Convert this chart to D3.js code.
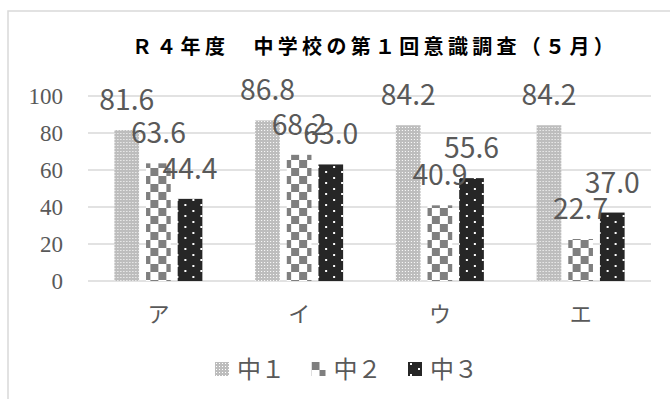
<!DOCTYPE html>
<html lang="ja">
<head>
<meta charset="UTF-8">
<title>R4年度 中学校の第1回意識調査（5月）</title>
<script src="https://d3js.org/d3.v7.min.js"></script>
<style>
  body { margin: 0; background: #fff; }
  svg { display: block; }
</style>
</head>
<body>
<div id="chart"></div>
<script>
const categories = ["ア", "イ", "ウ", "エ"];
const seriesNames = ["中１", "中２", "中３"];
const grade1 = [81.6, 86.8, 84.2, 84.2];
const grade2 = [63.6, 68.2, 40.9, 22.7];
const grade3 = [44.4, 63.0, 55.6, 37.0];
const yTicks = [0, 20, 40, 60, 80, 100];

const seriesValues = [grade1, grade2, grade3];

const W = 670, H = 399;
const plot = { left: 88, right: 651, top: 96, bottom: 281 };
const textGray = "#595959";

const svg = d3.select("#chart").append("svg")
    .attr("width", W)
    .attr("height", H);

// fill patterns, one per series
const defs = svg.append("defs");

const p1 = defs.append("pattern").attr("id", "pat1")
    .attr("patternUnits", "userSpaceOnUse").attr("width", 3).attr("height", 3);
p1.append("rect").attr("width", 3).attr("height", 3).attr("fill", "#bdbdbd");
p1.append("rect").attr("x", 1).attr("y", 1).attr("width", 1).attr("height", 1).attr("fill", "#fff");

const p2 = defs.append("pattern").attr("id", "pat2")
    .attr("patternUnits", "userSpaceOnUse").attr("width", 16).attr("height", 16);
p2.append("rect").attr("width", 16).attr("height", 16).attr("fill", "#fff");
p2.append("rect").attr("width", 8).attr("height", 8).attr("fill", "#7f7f7f");
p2.append("rect").attr("x", 8).attr("y", 8).attr("width", 8).attr("height", 8).attr("fill", "#7f7f7f");

const p3 = defs.append("pattern").attr("id", "pat3")
    .attr("patternUnits", "userSpaceOnUse").attr("width", 16).attr("height", 11);
p3.append("rect").attr("width", 16).attr("height", 11).attr("fill", "#262626");
p3.append("rect").attr("x", 2).attr("y", 1).attr("width", 2).attr("height", 2).attr("fill", "#fff");
p3.append("rect").attr("x", 10).attr("y", 6).attr("width", 2).attr("height", 2).attr("fill", "#fff");

const fills = ["url(#pat1)", "url(#pat2)", "url(#pat3)"];

// chart frame (only left and top edges are visible in the picture)
svg.append("rect")
    .attr("x", 8).attr("y", 11)
    .attr("width", 700).attr("height", 420)
    .attr("fill", "none")
    .attr("stroke", "#d9d9d9")
    .attr("stroke-width", 1.5);

svg.append("text")
    .attr("x", 375).attr("y", 54)
    .attr("text-anchor", "middle")
    .style("font-family", "'Noto Sans CJK JP', sans-serif")
    .style("font-weight", "bold")
    .style("font-size", "20px")
    .style("letter-spacing", "4.3px")
    .attr("fill", "#000")
    .text("Ｒ４年度　中学校の第１回意識調査（５月）");

const x0 = d3.scaleBand().domain(categories).range([plot.left, plot.right]);
const x1 = d3.scaleBand().domain(d3.range(3)).range([-44, 44]).paddingInner(0.22);
const y = d3.scaleLinear().domain([0, 100]).range([plot.bottom, plot.top]);

// gridlines
svg.append("g")
    .selectAll("line")
    .data(yTicks)
    .join("line")
    .attr("x1", plot.left).attr("x2", plot.right)
    .attr("y1", d => y(d)).attr("y2", d => y(d))
    .attr("stroke", "#d9d9d9")
    .attr("stroke-width", 1.5);

// y axis labels (serif, like the original)
const yAxis = svg.append("g")
    .attr("transform", `translate(${plot.left - 25},0)`)
    .call(d3.axisLeft(y).tickValues(yTicks).tickSize(0).tickPadding(0))
    .attr("font-family", "Liberation Serif")
    .attr("font-size", 23);
yAxis.select(".domain").remove();
yAxis.selectAll("text")
    .attr("dy", "0.34em")
    .attr("fill", textGray);

// x axis labels
const xAxis = svg.append("g")
    .attr("transform", `translate(0,${plot.bottom})`)
    .call(d3.axisBottom(x0).tickSize(0).tickPadding(25))
    .attr("font-family", "Noto Sans CJK JP")
    .attr("font-size", 22);
xAxis.select(".domain").remove();
xAxis.selectAll("text")
    .attr("fill", textGray);

// bars
const groups = svg.append("g")
    .selectAll("g")
    .data(categories)
    .join("g")
    .attr("transform", d => `translate(${x0(d) + x0.bandwidth() / 2},0)`);

groups.selectAll("rect")
    .data((c, i) => seriesValues.map((vals, s) => ({ s, v: vals[i] })))
    .join("rect")
    .attr("x", d => x1(d.s))
    .attr("width", x1.bandwidth())
    .attr("y", d => y(d.v))
    .attr("height", d => y(0) - y(d.v))
    .attr("fill", d => fills[d.s]);

// data labels
groups.selectAll("text.val")
    .data((c, i) => seriesValues.map((vals, s) => ({ s, v: vals[i] })))
    .join("text")
    .attr("class", "val")
    .attr("x", d => x1(d.s) + x1.bandwidth() / 2)
    .attr("y", d => y(d.v) - 20)
    .attr("text-anchor", "middle")
    .style("font-family", "'Noto Sans CJK JP', sans-serif")
    .style("font-size", "28px")
    .attr("textLength", 55)
    .attr("lengthAdjust", "spacingAndGlyphs")
    .attr("fill", textGray)
    .text(d => d3.format(".1f")(d.v));

// legend
const legend = svg.append("g")
    .selectAll("g")
    .data(seriesNames)
    .join("g")
    .attr("transform", (d, i) => `translate(${215 + i * 96.5},362)`);

legend.append("rect")
    .attr("width", 14).attr("height", 14)
    .attr("fill", (d, i) => fills[i]);

legend.append("text")
    .attr("x", 22).attr("y", 16)
    .style("font-family", "'Noto Sans CJK JP', sans-serif")
    .style("font-size", "24px")
    .attr("fill", textGray)
    .text(d => d);
</script>
</body>
</html>
